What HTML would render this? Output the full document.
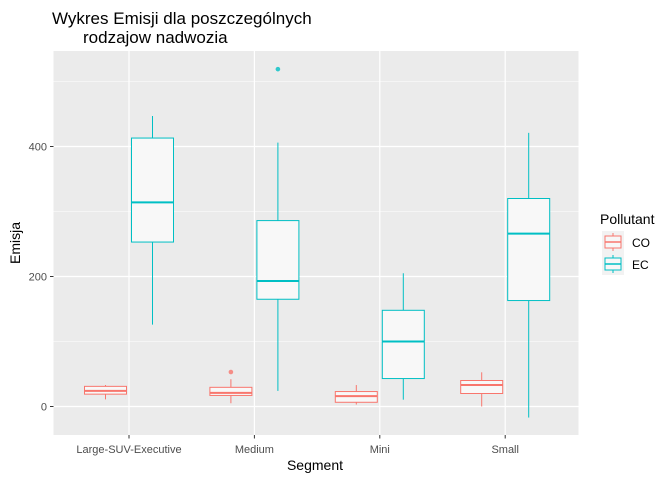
<!DOCTYPE html>
<html><head><meta charset="utf-8"><style>
body{margin:0;background:#fff;font-family:"Liberation Sans",sans-serif}
svg text{font-family:"Liberation Sans",sans-serif}
</style></head><body>
<svg id="c" width="672" height="480">
<text x="52" y="24" font-size="17" fill="#000">Wykres Emisji dla poszczególnych</text>
<text x="83" y="43" font-size="17" fill="#000">rodzajow nadwozia</text>
<rect x="53.5" y="51" width="525" height="384" fill="#ebebeb"/>
<g id="grid"></g><g id="marks"></g><g id="axes"></g>
<text x="315" y="470" font-size="14" text-anchor="middle">Segment</text>
<text transform="translate(20,243) rotate(-90)" font-size="14" text-anchor="middle">Emisja</text>
<text x="600" y="224" font-size="14">Pollutant</text>
<g>
<rect x="602" y="231" width="22" height="22" fill="#f2f2f2"/>
<line x1="613" y1="233" x2="613" y2="251" stroke="#F8766D"/>
<rect x="605" y="236" width="16" height="12" fill="#f7f7f7" stroke="#F8766D"/>
<line x1="605" y1="242" x2="621" y2="242" stroke="#F8766D" stroke-width="1.5"/>
<text x="632" y="247" font-size="12">CO</text></g>
<g>
<rect x="602" y="253" width="22" height="22" fill="#f2f2f2"/>
<line x1="613" y1="255" x2="613" y2="273" stroke="#00BFC4"/>
<rect x="605" y="258" width="16" height="12" fill="#f7f7f7" stroke="#00BFC4"/>
<line x1="605" y1="264" x2="621" y2="264" stroke="#00BFC4" stroke-width="1.5"/>
<text x="632" y="269" font-size="12">EC</text></g>
</svg>
<script>
const categories=["Large-SUV-Executive","Medium","Mini","Small"];
const coLow=[11,5,3,0], coQ1=[19,17,6.5,20], coMed=[24,21,16,33], coQ3=[31,29.5,23,40], coHigh=[33,42,33,52.6];
const coOutliers=[[],[53],[],[]];
const ecLow=[126,24,10.5,-17], ecQ1=[253,165,43,163], ecMed=[314,193,100,266], ecQ3=[413,286,148,320], ecHigh=[447,406,205,421];
const ecOutliers=[[],[519],[],[]];
const yTicks=[0,200,400];
const yMinor=[100,300,500];
const NS="http://www.w3.org/2000/svg";
const y=v=>406.5-v*0.65;
const x=i=>129+i*125.4;
function mk(p,t,a){const e=document.createElementNS(NS,t);for(const k in a)e.setAttribute(k,a[k]);p.appendChild(e);return e;}
const grid=document.getElementById('grid'),marks=document.getElementById('marks'),axes=document.getElementById('axes');
yMinor.forEach(v=>{const l=mk(grid,'line',{x1:53.5,x2:578.5,y1:y(v),y2:y(v),stroke:'#fff','stroke-width':0.6});

});
yTicks.forEach(v=>{const l=mk(grid,'line',{x1:53.5,x2:578.5,y1:y(v),y2:y(v),stroke:'#fff','stroke-width':1.2});


mk(axes,'line',{x1:50,x2:53.5,y1:y(v),y2:y(v),stroke:'#333'});
const t=mk(axes,'text',{x:47,y:y(v)+4,'font-size':11,fill:'#4d4d4d','text-anchor':'end'});t.textContent=v;

});
categories.forEach((c,i)=>{const l=mk(grid,'line',{x1:x(i),x2:x(i),y1:51,y2:435,stroke:'#fff','stroke-width':1.2});


mk(axes,'line',{x1:x(i),x2:x(i),y1:435,y2:438.5,stroke:'#333'});
const t=mk(axes,'text',{x:x(i),y:453,'font-size':11,fill:'#4d4d4d','text-anchor':'middle'});t.textContent=c;

});
function box(i,off,lo,q1,md,q3,hi,outs,col,nm){
const cx=x(i)+off,w=21;
const g=mk(marks,'g',{});


mk(g,'line',{x1:cx,x2:cx,y1:y(hi),y2:y(q3),stroke:col});
mk(g,'line',{x1:cx,x2:cx,y1:y(q1),y2:y(lo),stroke:col});
mk(g,'rect',{x:cx-w,y:y(q3),width:2*w,height:y(q1)-y(q3),fill:'#f8f8f8',stroke:col,'stroke-width':1});
mk(g,'line',{x1:cx-w,x2:cx+w,y1:y(md),y2:y(md),stroke:col,'stroke-width':2});
outs.forEach(o=>mk(g,'circle',{cx:cx,cy:y(o),r:2.3,fill:col,opacity:0.8}));}
categories.forEach((c,i)=>{
box(i,-23.5,coLow[i],coQ1[i],coMed[i],coQ3[i],coHigh[i],coOutliers[i],'#F8766D','box-co-'+i);
box(i,23.5,ecLow[i],ecQ1[i],ecMed[i],ecQ3[i],ecHigh[i],ecOutliers[i],'#00BFC4','box-ec-'+i);});
</script>
</body></html>
